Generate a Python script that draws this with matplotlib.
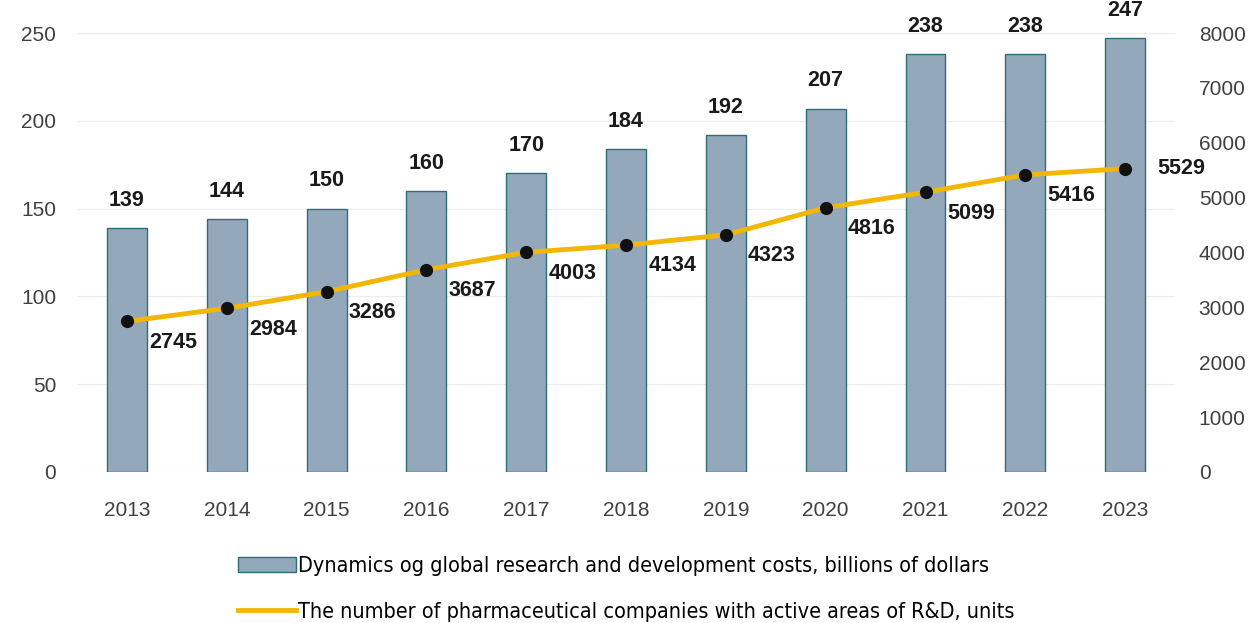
import matplotlib.pyplot as plt
from matplotlib.patches import Patch
from matplotlib.lines import Line2D
from matplotlib.font_manager import FontProperties

years = ['2013', '2014', '2015', '2016', '2017', '2018', '2019', '2020', '2021', '2022', '2023']
rd_costs = [139, 144, 150, 160, 170, 184, 192, 207, 238, 238, 247]
companies = [2745, 2984, 3286, 3687, 4003, 4134, 4323, 4816, 5099, 5416, 5529]

bar_label = 'Dynamics og global research and development costs, billions of dollars'
line_label = 'The number of pharmaceutical companies with active areas of R&D, units'

plt.rcParams['font.family'] = ['Liberation Sans', 'DejaVu Sans']

fig = plt.figure(figsize=(12.55, 6.23), dpi=100)
ax = fig.add_axes([0.0614, 0.2424, 0.8749, 0.7046])
ax2 = ax.twinx()

x = list(range(len(years)))
ax.bar(x, rd_costs, width=0.4, color='#93a8bb', edgecolor='#2f6f73', linewidth=1.0, zorder=2)
ax.set_ylim(0, 250)
ax.set_xlim(-0.5, len(years) - 0.5)
ax.set_yticks([0, 50, 100, 150, 200, 250])
ax.set_xticks(x)
ax.set_xticklabels(years)
ax.grid(axis='y', color='#ececec', linewidth=0.8, zorder=0)
ax.set_axisbelow(True)

for xi, v in zip(x, rd_costs):
    ax.annotate(str(v), (xi, v), xytext=(0, 20), textcoords='offset points',
                ha='center', va='center', fontsize=15.5, fontweight='bold', color='#1a1a1a')

ax2.plot(x, companies, color='#f2b705', linewidth=3.5, zorder=3)
ax2.plot(x, companies, 'o', color='#111111', markersize=8.5, zorder=4)
ax2.set_ylim(0, 8000)
ax2.set_yticks(range(0, 8001, 1000))

for xi, v in zip(x, companies):
    if xi == len(x) - 1:
        off = (23, 0)
    else:
        off = (16, -15)
    ax2.annotate(str(v), (xi, v), xytext=off, textcoords='offset points',
                 ha='left', va='center', fontsize=15.5, fontweight='bold', color='#1a1a1a', zorder=5)

for a in (ax, ax2):
    for s in a.spines.values():
        s.set_visible(False)
ax.tick_params(axis='both', length=0, labelsize=15, labelcolor='#404040')
ax.tick_params(axis='x', pad=21)
ax.tick_params(axis='y', pad=15)
ax2.tick_params(axis='y', length=0, labelsize=15, labelcolor='#404040', pad=17)

handles = [Patch(facecolor='#93a8bb', edgecolor='#2f6f73', linewidth=1.0),
           Line2D([0], [0], color='#f2b705', linewidth=3.5)]
legend_font = FontProperties(family='DejaVu Sans', stretch='condensed', size=15.5)
fig.legend(handles, [bar_label, line_label], loc='upper center', bbox_to_anchor=(0.499, 0.139),
           ncol=1, frameon=False, handlelength=2.7, handleheight=0.7,
           handletextpad=0.12, labelspacing=1.2, prop=legend_font)

fig.savefig('out.png', dpi=100)
